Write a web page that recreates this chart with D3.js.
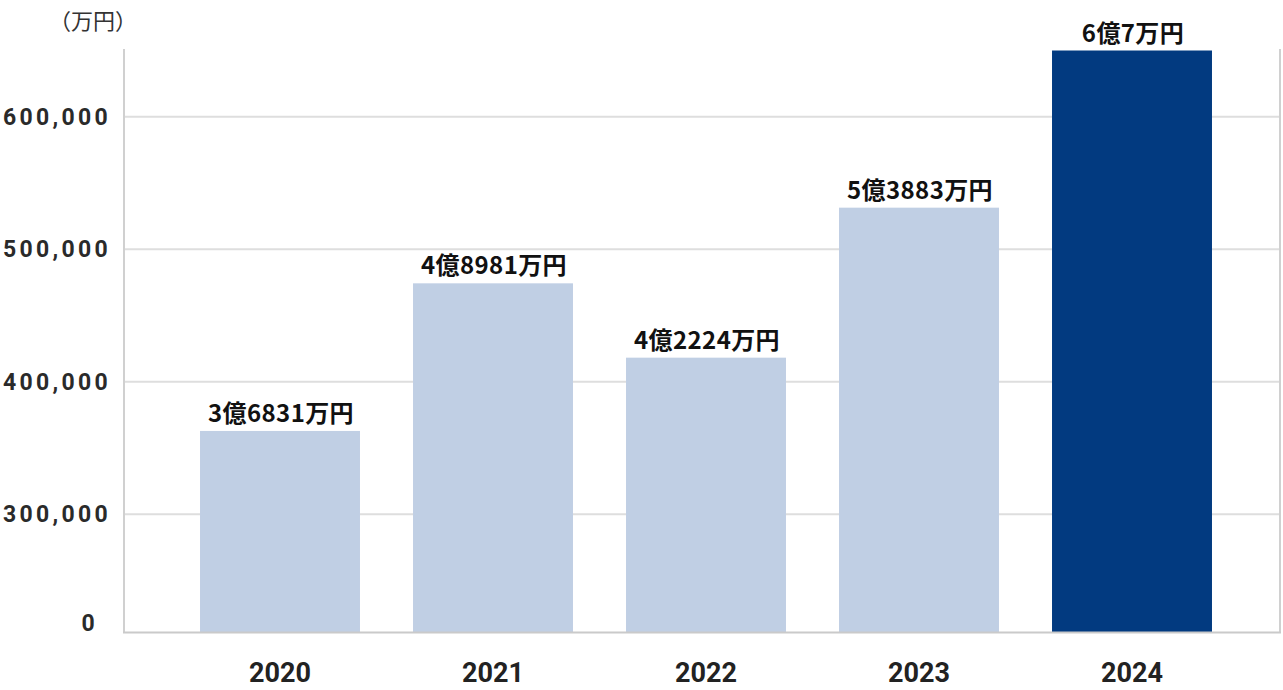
<!DOCTYPE html>
<html>
<head>
<meta charset="utf-8">
<script src="https://cdn.jsdelivr.net/npm/d3@7"></script>
<style>
  body { margin: 0; background: #fff; }
  svg { display: block; }
</style>
</head>
<body>
<div id="chart"></div>
<script>
var years = ["2020", "2021", "2022", "2023", "2024"];
// bar heights read from the (broken) axis, in 万円
var values = [362900, 474300, 418200, 531400, 650000];
var valueLabels = ["3億6831万円", "4億8981万円", "4億2224万円", "5億3883万円", "6億7万円"];
var tickValues = [0, 300000, 400000, 500000, 600000];
var unitLabel = "（万円）";

var width = 1283,
    height = 690,
    plotLeft = 124,
    plotRight = 1280,
    lightBar = "#c0cfe4",
    darkBar = "#023a80";

var svg = d3.select("#chart").append("svg")
    .attr("width", width)
    .attr("height", height);

// y axis is broken between 0 and 300,000
var y = d3.scaleLinear()
    .domain([0, 300000, 650000])
    .range([632, 514.3, 50.5]);

var x = d3.scaleBand()
    .domain(years)
    .range([173.5, 1238.5])
    .paddingInner(0.249)
    .paddingOuter(0.1245);

// gridlines
svg.append("g")
    .selectAll("line")
    .data(tickValues.filter(d => d > 0))
    .enter().append("line")
    .attr("x1", plotLeft)
    .attr("x2", plotRight)
    .attr("y1", d => y(d))
    .attr("y2", d => y(d))
    .attr("stroke", "#dedede")
    .attr("stroke-width", 2);

// side lines
svg.append("line")
    .attr("x1", plotLeft).attr("x2", plotLeft)
    .attr("y1", 49).attr("y2", y(0))
    .attr("stroke", "#d0d0d0").attr("stroke-width", 2);
svg.append("line")
    .attr("x1", plotRight).attr("x2", plotRight)
    .attr("y1", 49).attr("y2", y(0))
    .attr("stroke", "#d0d0d0").attr("stroke-width", 2);

// bars
svg.append("g")
    .selectAll("rect")
    .data(values)
    .enter().append("rect")
    .attr("x", (d, i) => x(years[i]))
    .attr("y", d => y(d))
    .attr("width", x.bandwidth())
    .attr("height", d => y(0) - y(d))
    .attr("fill", (d, i) => i == values.length - 1 ? darkBar : lightBar);

// bottom axis line
svg.append("line")
    .attr("x1", plotLeft - 1).attr("x2", plotRight + 1)
    .attr("y1", y(0) + 0.5).attr("y2", y(0) + 0.5)
    .attr("stroke", "#cacaca").attr("stroke-width", 2);

// value labels
svg.append("g")
    .selectAll("text")
    .data(values)
    .enter().append("text")
    .attr("x", (d, i) => x(years[i]) + x.bandwidth() / 2 + 1)
    .attr("y", d => y(d) - 9)
    .attr("text-anchor", "middle")
    .style("font-family", "'Noto Sans CJK JP', sans-serif")
    .style("font-weight", "bold")
    .style("font-size", "24px")
    .style("letter-spacing", "0.4px")
    .attr("fill", "#111")
    .text((d, i) => valueLabels[i]);

// y tick labels
svg.append("g")
    .selectAll("text")
    .data(tickValues)
    .enter().append("text")
    .attr("x", d => d == 0 ? 98 : 111)
    .attr("y", d => y(d))
    .attr("dy", d => d == 0 ? "-0.05em" : "0.35em")
    .attr("text-anchor", "end")
    .style("font-family", "Roboto, sans-serif")
    .style("font-weight", "bold")
    .style("font-size", "23px")
    .style("letter-spacing", "3.3px")
    .attr("fill", "#2a2a2a")
    .text(d => d3.format(",")(d));

// x labels
svg.append("g")
    .selectAll("text")
    .data(years)
    .enter().append("text")
    .attr("x", d => x(d) + x.bandwidth() / 2)
    .attr("y", 673)
    .attr("dy", "0.35em")
    .attr("text-anchor", "middle")
    .style("font-family", "Roboto, sans-serif")
    .style("font-weight", "bold")
    .style("font-size", "27px")
    .attr("fill", "#222")
    .text(d => d);

// unit label
svg.append("text")
    .attr("x", 49)
    .attr("y", 21)
    .attr("dy", "0.35em")
    .style("font-family", "'Noto Sans CJK JP', sans-serif")
    .style("font-size", "22px")
    .attr("fill", "#333")
    .text(unitLabel);
</script>
</body>
</html>
